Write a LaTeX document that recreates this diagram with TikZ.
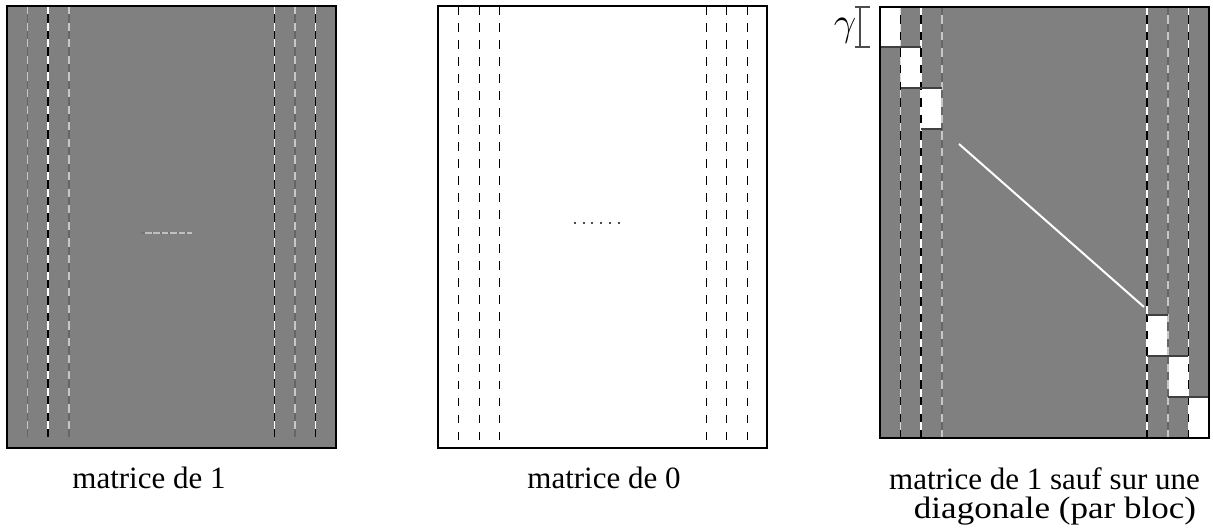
\RequirePackage{fix-cm}
\documentclass[tikz,border=0pt]{standalone}
\usepackage{fontspec}
\setmainfont{Liberation Serif}
\newcommand\ttline[5]{%
  \draw[#4, line width=1.5pt] (#1,#2) -- (#1,#3);
  \draw[#5, line width=1.5pt, dash pattern=on 8.3pt off 8.3pt] (#1,#2) -- (#1,#3);}
\begin{document}
\begin{tikzpicture}[x=1pt,y=-1pt,
  mat/.style={draw=black, line width=1.2pt},
  lbl/.style={font=\fontsize{31}{30}\selectfont, inner sep=0pt, anchor=base},
  blk/.style={fill=white, draw=none},
  blkedge/.style={draw=black!75, line width=1.2pt},
  dk/.style={black!60},
  lt/.style={black!22}]
\useasboundingbox (0,0) rectangle (1213,529);

% ---------- left matrix: matrice de 1
\fill[gray] (7,6) rectangle (336,448);
\ttline{27.6}{6}{437}{dk}{lt}
\ttline{48.2}{6}{437}{black}{white}
\ttline{68.8}{6}{437}{dk}{lt}
\ttline{274.4}{6}{437}{black}{white}
\ttline{295}{6}{437}{dk}{lt}
\ttline{315.6}{6}{437}{black}{white}
\draw[black!55, line width=1.6pt] (141,233) -- (192,233);
\draw[black!25, line width=1.6pt, dash pattern=on 6.5pt off 1.9pt] (145,233) -- (192,233);
\draw[mat] (7,6) rectangle (336,448);
\node[lbl] (l1) at (149,488) {matrice de 1};

% ---------- middle matrix: matrice de 0
\foreach \x in {458.6,479.2,499.8,706.2,726.8,747.4}
  \draw[black, line width=1.2pt, dash pattern=on 8.5pt off 8.5pt] (\x,6.5) -- (\x,444);
\draw[black!70, line width=1.6pt, dash pattern=on 2pt off 6.7pt] (574,223) -- (620,223);
\draw[mat] (438,6) rectangle (767,448);
\node[lbl] (l0) at (604,488) {matrice de 0};

% ---------- right matrix
\fill[gray] (880,7) rectangle (1209,438);
% white blocks
\fill[blk] (880,7) rectangle (900.6,47);
\fill[blk] (900.6,47) rectangle (921.2,88);
\fill[blk] (921.2,88) rectangle (941.8,129);
\fill[blk] (1147.2,315) rectangle (1167.8,356);
\fill[blk] (1167.8,356) rectangle (1188.4,397);
\fill[blk] (1188.4,397) rectangle (1209,438);
\ttline{900.6}{7}{438}{black}{black!15}
\ttline{921.2}{7}{438}{black}{white}
\ttline{941.8}{7}{438}{lt}{dk}
\ttline{1147.2}{7}{438}{black}{white}
\ttline{1167.8}{7}{438}{lt}{dk}
\ttline{1188.4}{7}{438}{black}{white}
% block edges
\draw[blkedge] (880,47) -- (921.2,47);
\draw[blkedge] (900.6,88) -- (941.8,88);
\draw[blkedge] (921.2,129) -- (941.8,129);
\draw[blkedge] (1147.2,315) -- (1167.8,315);
\draw[blkedge] (1147.2,356) -- (1188.4,356);
\draw[blkedge] (1167.8,397) -- (1209,397);
% diagonal
\draw[white, line width=2pt] (959,144) -- (1144,307);
\draw[mat] (880,7) rectangle (1209,438);
% gamma bracket
\draw[black!70, line width=1.1pt] (855,7) -- (870,7) (860,7) -- (860,47) (855,47) -- (870,47);
\node[font=\fontsize{40}{40}\selectfont, inner sep=0pt] (g) at (845,31) {$\gamma$};
\node[lbl] (r1) at (1044.5,489) {matrice de 1 sauf sur une};
\node[lbl] (r2) at (1055,518) {\scalebox{1.13}[1]{diagonale (par bloc)}};
\end{tikzpicture}
\end{document}
